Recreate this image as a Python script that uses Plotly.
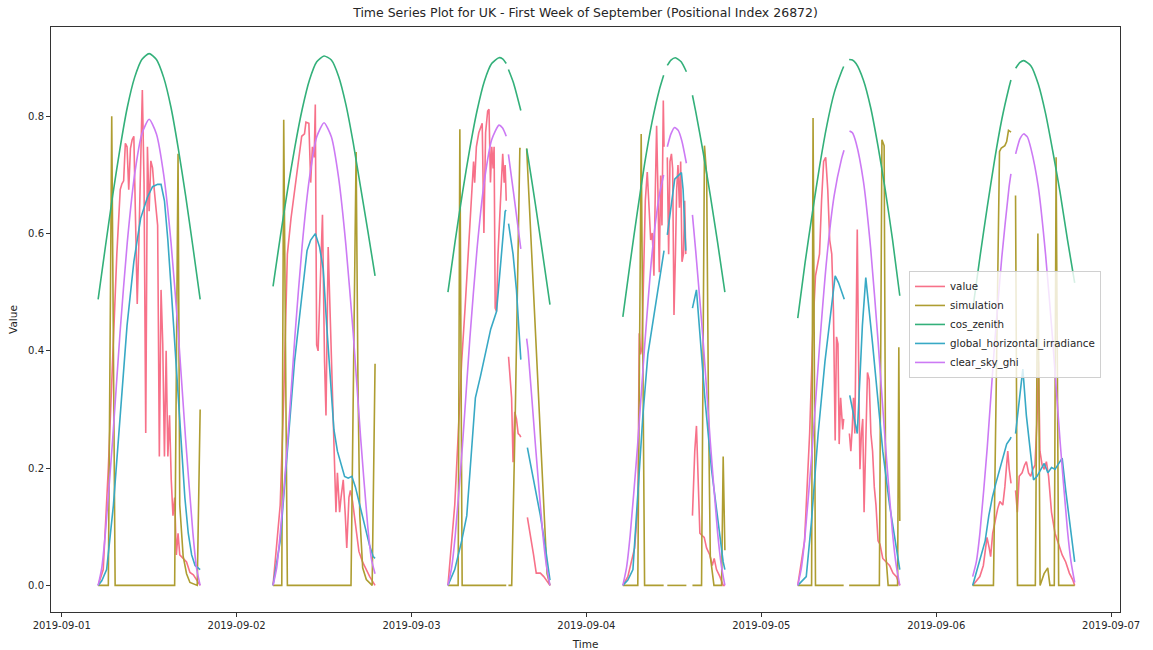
import plotly.graph_objects as go
import pandas as pd

# ---------------- data ----------------
days = ["2019-09-01", "2019-09-02", "2019-09-03", "2019-09-04", "2019-09-05", "2019-09-06"]
x_tick_dates = ["2019-09-01", "2019-09-02", "2019-09-03", "2019-09-04", "2019-09-05", "2019-09-06", "2019-09-07"]
y_tick_vals = [0.0, 0.2, 0.4, 0.6, 0.8]
series_names = ["value", "simulation", "cos_zenith", "global_horizontal_irradiance", "clear_sky_ghi"]
colors = ["#f77189", "#ae9d31", "#33b07a", "#38a9c5", "#cc7af4"]

# each entry: (hour of day UTC, value); None marks a missing timestamp
value_d1 = [(5.0, 0.0), (5.7, 0.027), (6.4, 0.2), (7.1, 0.44), (7.57, 0.565), (8.03, 0.675), (8.27, 0.685),
            (8.5, 0.69), (8.73, 0.754), (8.97, 0.748), (9.2, 0.675), (9.43, 0.745), (9.67, 0.76), (9.9, 0.766),
            (10.13, 0.64), (10.37, 0.48), (10.6, 0.59), (10.83, 0.70), (11.07, 0.845), (11.3, 0.687),
            (11.53, 0.26), (11.77, 0.748), (12.0, 0.638), (12.23, 0.724), (12.47, 0.712), (12.7, 0.675),
            (12.93, 0.645), (13.17, 0.614), (13.4, 0.22), (13.63, 0.504), (13.87, 0.412), (14.1, 0.22),
            (14.33, 0.40), (14.57, 0.22), (14.8, 0.29), (15.03, 0.18), (15.27, 0.119), (15.5, 0.15),
            (15.73, 0.052), (15.97, 0.089), (16.2, 0.052), (16.67, 0.045), (17.13, 0.04), (17.6, 0.022),
            (18.07, 0.018), (18.53, 0.009), (19.0, 0.0)]
value_d2 = [(5.0, 0.0), (5.98, 0.137), (6.47, 0.32), (6.96, 0.565), (7.46, 0.626), (7.95, 0.675), (8.44, 0.717),
            (8.93, 0.766), (9.32, 0.77), (9.52, 0.79), (9.91, 0.788), (10.16, 0.687), (10.4, 0.748), (10.65, 0.73),
            (10.8, 0.82), (10.99, 0.41), (11.19, 0.40), (11.48, 0.534), (11.78, 0.632), (12.07, 0.382),
            (12.27, 0.29), (12.56, 0.577), (12.86, 0.443), (13.15, 0.32), (13.45, 0.192), (13.64, 0.125),
            (13.84, 0.192), (14.13, 0.125), (14.33, 0.15), (14.63, 0.18), (14.92, 0.119), (15.12, 0.064),
            (15.42, 0.15), (15.61, 0.162), (15.91, 0.143), (16.3, 0.107), (16.79, 0.058), (17.28, 0.04),
            (17.77, 0.027), (18.26, 0.015), (19.0, 0.0)]
value_d3 = [(5.0, 0.0), (5.94, 0.137), (6.41, 0.26), (6.88, 0.382), (7.35, 0.473), (7.82, 0.565), (8.29, 0.675),
            (8.52, 0.723), (8.66, 0.687), (8.9, 0.748), (9.23, 0.772), (9.7, 0.788), (9.93, 0.601), (10.17, 0.772),
            (10.45, 0.809), (10.64, 0.812), (10.83, 0.687), (11.01, 0.748), (11.2, 0.711), (11.34, 0.748),
            (11.48, 0.473), (11.67, 0.467), (11.86, 0.565), (12.05, 0.614), (12.28, 0.668), (12.52, 0.736),
            (12.71, 0.687), (12.85, 0.717), (13.0, 0.656), None,
            (13.32, 0.39), (13.55, 0.351), (13.74, 0.32), (13.93, 0.21), (14.16, 0.296), (14.4, 0.284),
            (14.63, 0.259), (14.87, 0.256), (15.0, 0.253), None,
            (15.9, 0.116), (16.28, 0.089), (16.75, 0.052), (17.12, 0.021), (17.68, 0.021), (18.15, 0.015),
            (18.62, 0.006), (19.0, 0.0)]
value_d4 = [(5.0, 0.0), (5.69, 0.015), (6.61, 0.064), (7.07, 0.137), (7.25, 0.43), (7.43, 0.394), (7.62, 0.406),
            (7.8, 0.504), (8.08, 0.656), (8.35, 0.705), (8.63, 0.637), (8.81, 0.589), (9.04, 0.601), (9.27, 0.528),
            (9.45, 0.671), (9.64, 0.784), (9.82, 0.671), (10.0, 0.534), (10.19, 0.699), (10.37, 0.614),
            (10.55, 0.827), (10.65, 0.748), None,
            (11.1, 0.73), (11.29, 0.565), (11.47, 0.723), (11.66, 0.736), (11.84, 0.711), (12.02, 0.461),
            (12.21, 0.565), (12.39, 0.675), (12.57, 0.717), (12.76, 0.644), (12.94, 0.723), (13.12, 0.552),
            (13.31, 0.565), (13.49, 0.656), (13.63, 0.565), None,
            (14.55, 0.119), (14.87, 0.229), (15.1, 0.272), (15.33, 0.168), (15.56, 0.089), (15.89, 0.085),
            (16.16, 0.082), (16.48, 0.064), (16.94, 0.052), (17.26, 0.034), (17.53, 0.046), (17.85, 0.027),
            (18.31, 0.015), (18.77, 0.0), (19.0, 0.0)]
value_d5 = [(5.0, 0.0), (5.93, 0.076), (6.63, 0.26), (7.1, 0.443), (7.43, 0.528), (7.71, 0.546), (7.99, 0.565),
            (8.27, 0.656), (8.55, 0.723), (8.83, 0.73), (9.11, 0.675), (9.39, 0.589), (9.67, 0.565), (9.9, 0.467),
            (10.13, 0.247), (10.32, 0.424), (10.51, 0.412), (10.69, 0.241), (10.88, 0.32), (11.16, 0.266),
            (11.3, 0.284), None,
            (12.09, 0.259), (12.28, 0.229), (12.47, 0.266), (12.65, 0.32), (12.84, 0.259), (13.03, 0.504),
            (13.17, 0.607), (13.35, 0.382), (13.54, 0.198), (13.73, 0.259), (13.92, 0.284), (14.1, 0.125),
            (14.33, 0.229), (14.57, 0.363), (14.8, 0.351), (15.03, 0.259), (15.27, 0.229), (15.5, 0.168),
            (15.73, 0.137), (16.01, 0.076), (16.29, 0.07), (16.67, 0.046), (17.13, 0.04), (17.6, 0.034),
            (18.07, 0.021), (18.53, 0.015), (19.0, 0.0)]
value_d6 = [(5.0, 0.0), (5.98, 0.015), (6.47, 0.034), (6.96, 0.082), (7.26, 0.064), (7.46, 0.049), (7.75, 0.089),
            (8.14, 0.113), (8.44, 0.131), (8.73, 0.143), (9.13, 0.137), (9.42, 0.168), (9.81, 0.229),
            (10.01, 0.198), (10.26, 0.174), None,
            (10.89, 0.162), (11.14, 0.125), (11.39, 0.186), (11.78, 0.192), (12.12, 0.205), (12.37, 0.211),
            (12.66, 0.192), (12.96, 0.186), (13.25, 0.198), (13.55, 0.205), (13.84, 0.284), (14.04, 0.382),
            (14.23, 0.229), (14.53, 0.205), (14.82, 0.198), (15.12, 0.211), (15.41, 0.186), (15.81, 0.125),
            (16.3, 0.089), (16.79, 0.07), (17.28, 0.052), (17.77, 0.04), (18.26, 0.021), (18.75, 0.009),
            (19.0, 0.0)]

simulation_d1 = [(5.0, 0.0), (6.4, 0.0), (6.87, 0.80), (7.33, 0.0), (15.5, 0.0), (15.97, 0.736), (16.2, 0.137),
                 (16.67, 0.05), (17.13, 0.02), (17.6, 0.005), (18.6, 0.0), (19.0, 0.30)]
simulation_d2 = [(5.0, 0.0), (6.2, 0.0), (6.47, 0.794), (6.96, 0.0), (15.7, 0.0), (16.4, 0.739), (16.65, 0.35),
                 (16.9, 0.12), (17.3, 0.03), (17.8, 0.01), (18.6, 0.0), (19.0, 0.378)]
simulation_d3 = [(5.0, 0.0), (6.4, 0.0), (6.64, 0.778), (6.95, 0.0), (13.0, 0.0), None,
                 (13.3, 0.0), (13.75, 0.0), (14.25, 0.3), (14.87, 0.745), (15.0, 0.745), None,
                 (15.8, 0.745), (16.5, 0.56), (17.2, 0.37), (17.9, 0.18), (18.6, 0.02), (19.0, 0.0)]
simulation_d4 = [(5.0, 0.0), (7.05, 0.0), (7.52, 0.77), (7.98, 0.0), (10.6, 0.0), None,
                 (11.1, 0.0), (13.72, 0.0), None,
                 (14.55, 0.0), (15.8, 0.0), (16.2, 0.75), (16.5, 0.70), (16.75, 0.3), (17.0, 0.05),
                 (17.5, 0.0), (18.55, 0.0), (18.77, 0.22), (19.0, 0.06)]
simulation_d5 = [(5.0, 0.0), (6.9, 0.0), (7.1, 0.797), (7.43, 0.0), (11.3, 0.0), None,
                 (12.05, 0.0), (16.2, 0.0), (16.55, 0.76), (16.85, 0.75), (17.1, 0.05), (17.4, 0.0),
                 (18.7, 0.0), (18.86, 0.406), (19.0, 0.11)]
simulation_d6 = [(5.0, 0.0), (7.85, 0.0), (8.68, 0.74), (8.93, 0.746), (9.42, 0.75), (9.67, 0.757),
                 (9.91, 0.776), (10.26, 0.773), None,
                 (10.89, 0.665), (11.15, 0.0), (13.6, 0.0), (13.95, 0.60), (14.25, 0.0), (14.8, 0.02),
                 (15.3, 0.03), (15.6, 0.0), (16.2, 0.0), (16.45, 0.73), (16.8, 0.0), (19.0, 0.0)]

cos_zenith_d1 = [(5, 0.488), (6, 0.578), (7, 0.665), (8, 0.745), (9, 0.815), (10, 0.866), (11, 0.897), (12, 0.907),
                 (13, 0.897), (14, 0.866), (15, 0.815), (16, 0.745), (17, 0.665), (18, 0.578), (19, 0.488)]
cos_zenith_d2 = [(5, 0.51), (6, 0.595), (7, 0.675), (8, 0.748), (9, 0.812), (10, 0.862), (11, 0.893), (12, 0.903),
                 (13, 0.896), (14, 0.868), (15, 0.82), (16, 0.755), (17, 0.68), (18, 0.605), (19, 0.528)]
cos_zenith_d3 = [(5, 0.50), (6, 0.588), (7, 0.67), (8, 0.745), (9, 0.81), (10, 0.86), (11, 0.89), (12, 0.90),
                 (12.5, 0.898), (13, 0.89), None, (13.3, 0.88), (14, 0.857), (15, 0.81), None,
                 (15.8, 0.745), (16, 0.73), (17, 0.65), (18, 0.565), (19, 0.479)]
cos_zenith_d4 = [(5, 0.458), (6, 0.55), (7, 0.638), (8, 0.72), (9, 0.79), (10, 0.845), (10.6, 0.87), None,
                 (11.1, 0.887), (11.6, 0.896), (12.2, 0.9), (13, 0.893), (13.72, 0.876), None,
                 (14.55, 0.836), (15, 0.808), (16, 0.74), (17, 0.665), (18, 0.585), (19, 0.50)]
cos_zenith_d5 = [(5, 0.456), (6, 0.55), (7, 0.635), (8, 0.715), (9, 0.785), (10, 0.84), (11, 0.876), (11.3, 0.885),
                 None, (12.05, 0.897), (12.5, 0.896), (13, 0.89), (14, 0.862), (15, 0.815), (16, 0.75),
                 (17, 0.675), (18, 0.59), (19, 0.494)]
cos_zenith_d6 = [(5, 0.47), (6, 0.56), (7, 0.645), (8, 0.725), (9, 0.795), (10, 0.85), (10.25, 0.862), None,
                 (10.9, 0.882), (11.5, 0.892), (12, 0.895), (13, 0.886), (14, 0.855), (15, 0.805), (16, 0.74),
                 (17, 0.67), (18, 0.59), (19, 0.516)]

ghi_d1 = [(5.0, 0.0), (5.5, 0.008), (6.17, 0.027), (7.1, 0.137), (8.03, 0.29), (8.97, 0.443), (9.9, 0.552),
          (10.83, 0.626), (11.77, 0.662), (12.47, 0.68), (13.17, 0.684), (13.63, 0.684), (14.1, 0.656),
          (14.57, 0.589), (15.03, 0.504), (15.5, 0.412), (15.97, 0.32), (16.43, 0.229), (16.9, 0.15),
          (17.37, 0.089), (17.83, 0.052), (18.3, 0.034), (19.0, 0.027)]
ghi_d2 = [(5.0, 0.0), (5.98, 0.076), (6.96, 0.229), (7.95, 0.382), (8.93, 0.491), (9.67, 0.571), (10.16, 0.589),
          (10.8, 0.60), (11.39, 0.577), (11.88, 0.54), (12.37, 0.443), (12.86, 0.345), (13.35, 0.266),
          (13.84, 0.229), (14.33, 0.205), (14.82, 0.186), (15.32, 0.183), (15.81, 0.186), (16.3, 0.168),
          (16.79, 0.143), (17.28, 0.113), (17.77, 0.089), (18.26, 0.067), (18.75, 0.049), (19.0, 0.046)]
ghi_d3 = [(5.0, 0.0), (5.94, 0.027), (6.88, 0.076), (7.58, 0.119), (8.05, 0.198), (8.76, 0.32), (9.46, 0.357),
          (10.17, 0.40), (10.87, 0.437), (11.67, 0.467), (12.28, 0.552), (12.85, 0.638), (13.0, 0.64), None,
          (13.32, 0.617), (13.93, 0.565), (14.4, 0.504), (14.87, 0.394), (15.0, 0.385), None,
          (15.9, 0.235), (16.75, 0.18), (17.68, 0.119), (18.39, 0.064), (19.0, 0.009)]
ghi_d4 = [(5.0, 0.0), (5.69, 0.009), (6.38, 0.027), (7.07, 0.168), (7.75, 0.29), (8.44, 0.394), (9.36, 0.467),
          (10.28, 0.54), (10.65, 0.571), None,
          (11.1, 0.598), (11.66, 0.65), (12.11, 0.693), (13.03, 0.704), (13.26, 0.675), (13.63, 0.571), None,
          (14.55, 0.473), (15.1, 0.504), (15.56, 0.43), (16.25, 0.32), (17.16, 0.198), (18.08, 0.107),
          (18.77, 0.04), (19.0, 0.027)]
ghi_d5 = [(5.0, 0.0), (6.17, 0.015), (6.87, 0.107), (7.8, 0.259), (8.73, 0.382), (9.67, 0.473), (10.13, 0.528),
          (10.6, 0.516), (11.39, 0.488), None,
          (12.14, 0.324), (12.7, 0.29), (13.17, 0.259), (13.4, 0.32), (13.87, 0.443), (14.33, 0.525),
          (14.8, 0.473), (15.27, 0.412), (15.73, 0.351), (16.67, 0.229), (17.6, 0.137), (18.53, 0.064),
          (19.0, 0.027)]
ghi_d6 = [(5.0, 0.0), (6.23, 0.052), (6.72, 0.076), (7.21, 0.119), (7.7, 0.15), (8.19, 0.174), (8.68, 0.198),
          (9.18, 0.217), (9.67, 0.241), (10.16, 0.25), (10.26, 0.253), None,
          (10.89, 0.259), (11.39, 0.32), (11.88, 0.369), (12.37, 0.29), (12.86, 0.229), (13.35, 0.18),
          (13.84, 0.186), (14.33, 0.198), (14.82, 0.208), (15.32, 0.192), (15.81, 0.201), (16.3, 0.198),
          (16.79, 0.208), (17.28, 0.217), (17.77, 0.162), (18.26, 0.113), (18.75, 0.058), (19.0, 0.04)]

clear_sky_d1 = [(5, 0.0), (5.5, 0.03), (6, 0.09), (7, 0.25), (8, 0.43), (9, 0.585), (10, 0.70), (11, 0.77),
                (12, 0.795), (13, 0.77), (14, 0.70), (15, 0.585), (16, 0.43), (17, 0.25), (18, 0.09), (18.5, 0.03),
                (19, 0.0)]
clear_sky_d2 = [(5, 0.0), (5.5, 0.03), (6, 0.09), (7, 0.245), (8, 0.425), (9, 0.58), (10, 0.695), (11, 0.765),
                (12, 0.789), (13, 0.765), (14, 0.695), (15, 0.58), (16, 0.43), (17, 0.255), (18, 0.10),
                (18.5, 0.045), (19, 0.02)]
clear_sky_d3 = [(5, 0.0), (5.5, 0.03), (6, 0.085), (7, 0.24), (8, 0.42), (9, 0.575), (10, 0.69), (11, 0.76),
                (12, 0.785), (12.5, 0.78), (13, 0.766), None, (13.3, 0.735), (14, 0.67), (15, 0.574), None,
                (15.8, 0.421), (16, 0.40), (17, 0.24), (18, 0.09), (18.5, 0.035), (19, 0.0)]
clear_sky_d4 = [(5, 0.0), (5.5, 0.03), (6, 0.085), (7, 0.235), (8, 0.41), (9, 0.565), (10, 0.665), (10.6, 0.70),
                None, (11.1, 0.748), (11.6, 0.77), (12.1, 0.781), (12.6, 0.776), (13.1, 0.758), (13.72, 0.72),
                None, (14.55, 0.632), (15, 0.57), (16, 0.42), (17, 0.245), (18, 0.09), (18.5, 0.035), (19, 0.0)]
clear_sky_d5 = [(5, 0.0), (5.5, 0.03), (6, 0.085), (7, 0.235), (8, 0.41), (9, 0.56), (10, 0.665), (11, 0.727),
                (11.35, 0.742), None, (12.1, 0.775), (12.5, 0.772), (13, 0.755), (14, 0.69), (15, 0.575),
                (16, 0.42), (17, 0.245), (18, 0.09), (18.5, 0.035), (19, 0.0)]
clear_sky_d6 = [(5, 0.015), (5.5, 0.04), (6, 0.09), (7, 0.235), (8, 0.41), (9, 0.56), (10, 0.68), (10.25, 0.702),
                None, (10.9, 0.736), (11.5, 0.762), (12, 0.77), (12.5, 0.765), (13, 0.745), (14, 0.68),
                (15, 0.565), (16, 0.415), (17, 0.245), (18, 0.095), (18.5, 0.04), (19, 0.005)]

value_days = [value_d1, value_d2, value_d3, value_d4, value_d5, value_d6]
simulation_days = [simulation_d1, simulation_d2, simulation_d3, simulation_d4, simulation_d5, simulation_d6]
cos_zenith_days = [cos_zenith_d1, cos_zenith_d2, cos_zenith_d3, cos_zenith_d4, cos_zenith_d5, cos_zenith_d6]
ghi_days = [ghi_d1, ghi_d2, ghi_d3, ghi_d4, ghi_d5, ghi_d6]
clear_sky_days = [clear_sky_d1, clear_sky_d2, clear_sky_d3, clear_sky_d4, clear_sky_d5, clear_sky_d6]


def build(day_lists):
    xs, ys = [], []
    for day, pts in zip(days, day_lists):
        base = pd.Timestamp(day)
        for p in pts:
            if p is None:
                xs.append(None)
                ys.append(None)
            else:
                t = base + pd.Timedelta(minutes=round(p[0] * 60))
                xs.append(t.strftime("%Y-%m-%d %H:%M:%S"))
                ys.append(p[1])
        xs.append(None)
        ys.append(None)
    return xs, ys


all_series = [value_days, simulation_days, cos_zenith_days, ghi_days, clear_sky_days]
shapes = ["linear", "linear", "spline", "linear", "spline"]

fig = go.Figure()
for name, col, data, shp in zip(series_names, colors, all_series, shapes):
    xs, ys = build(data)
    fig.add_trace(go.Scatter(x=xs, y=ys, mode="lines", name=name,
                             line=dict(color=col, width=1.6, shape=shp, smoothing=0.6),
                             connectgaps=False))

axis_color = "#333333"
fig.update_layout(
    width=1153, height=650,
    margin=dict(l=51, r=33, t=27, b=38, autoexpand=False),
    paper_bgcolor="white", plot_bgcolor="white",
    font=dict(family="DejaVu Sans", size=10, color="#262626"),
    title=dict(text="Time Series Plot for UK - First Week of September (Positional Index 26872)",
               x=0.5, xref="paper", xanchor="center", y=1 - 13 / 650, yref="container", yanchor="middle",
               font=dict(size=12.5, color="#262626")),
    legend=dict(x=0.8026, y=0.583, xanchor="left", yanchor="top",
                bgcolor="rgba(255,255,255,0.8)", bordercolor="#d0d0d0", borderwidth=1,
                font=dict(size=10.3, color="#262626"), tracegroupgap=0),
    showlegend=True,
)
fig.update_xaxes(
    type="date", automargin=False,
    range=["2019-08-31 22:32:00", "2019-09-07 01:13:00"],
    tickvals=x_tick_dates, ticktext=x_tick_dates,
    ticks="outside", ticklen=4, tickcolor=axis_color, tickwidth=1,
    showline=True, linecolor=axis_color, linewidth=1, mirror=True,
    showgrid=False, zeroline=False,
    title=dict(text="Time", standoff=10, font=dict(size=10.5)),
)
fig.update_yaxes(
    automargin=False,
    range=[-0.04535, 0.95235],
    tickvals=y_tick_vals, ticktext=[f"{v:.1f}" for v in y_tick_vals],
    ticks="outside", ticklen=4, tickcolor=axis_color, tickwidth=1,
    showline=True, linecolor=axis_color, linewidth=1, mirror=True,
    showgrid=False, zeroline=False,
    title=dict(text="Value", standoff=8, font=dict(size=10.5)),
)

fig.write_html("out.html")
